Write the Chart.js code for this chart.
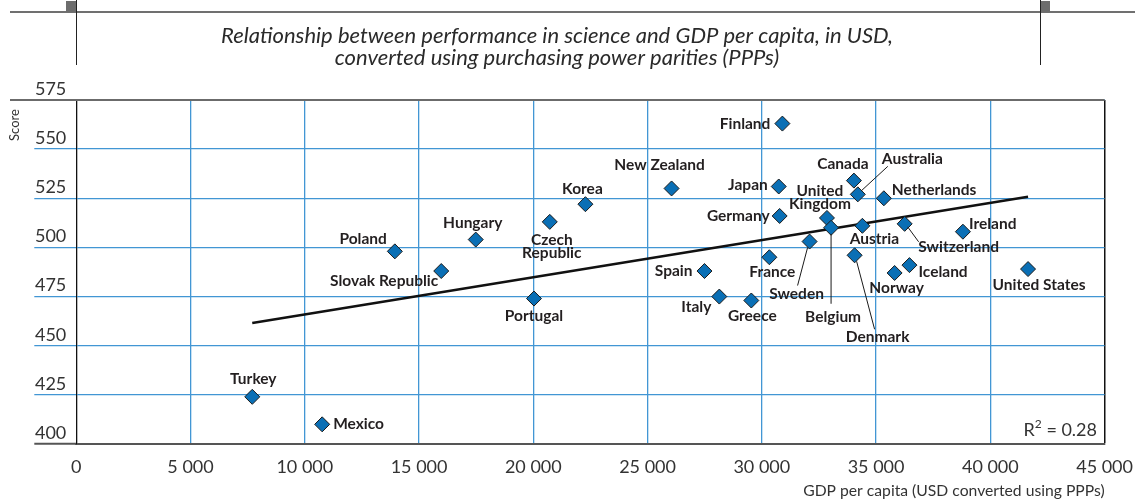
<!DOCTYPE html>
<html>
<head>
<meta charset="utf-8">
<script src="https://cdn.jsdelivr.net/npm/chart.js@4/dist/chart.umd.min.js"></script>
<style>
    html, body { margin: 0; padding: 0; background: #fff; }
    canvas { display: block; }
</style>
</head>
<body>
<canvas id="scatterCanvas" width="1145" height="503"></canvas>
<script>
(function () {
    'use strict';

    var countries = ['Finland', 'New Zealand', 'Japan', 'Canada', 'Australia', 'Netherlands',
        'United Kingdom', 'Germany', 'Belgium', 'Austria', 'Switzerland', 'Ireland', 'Sweden',
        'France', 'Denmark', 'Spain', 'Iceland', 'Norway', 'United States', 'Italy', 'Greece',
        'Poland', 'Hungary', 'Slovak Republic', 'Czech Republic', 'Korea', 'Portugal', 'Turkey', 'Mexico'];
    var gdpPerCapita = [30900, 26050, 30740, 34030, 34200, 35340,
        32850, 30780, 33030, 34400, 36250, 38800, 32090,
        30330, 34060, 27490, 36460, 35810, 41650, 28140, 29540,
        13940, 17480, 15970, 20720, 22280, 20030, 7700, 10760];
    var scienceScore = [563, 530, 531, 534, 527, 525,
        515, 516, 510, 511, 512, 508, 503,
        495, 496, 488, 491, 487, 489, 475, 473,
        498, 504, 488, 513, 522, 474, 424, 410];

    var trendGdp = [7700, 41650];
    var trendScore = [461.5, 525.8];

    var xTickLabels = ['0', '5 000', '10 000', '15 000', '20 000', '25 000', '30 000', '35 000', '40 000', '45 000'];
    var yTickLabels = ['400', '425', '450', '475', '500', '525', '550', '575'];

    var subtitleLines = ['Relationship between performance in science and GDP per capita, in USD,',
        'converted using purchasing power parities (PPPs)'];
    var yTitle = 'Score';
    var xTitle = 'GDP per capita (USD converted using PPPs)';
    var rSquared = '0.28';

    // label placement in pixels relative to each diamond
    var labelLayout = {
        'Finland': { dx: -12, dy: 0, align: 'right' },
        'New Zealand': { dx: -12, dy: -23, align: 'center' },
        'Japan': { dx: -11, dy: -1, align: 'right' },
        'Canada': { dx: -11, dy: -17, align: 'center' },
        'Australia': { dx: 24, dy: -35, align: 'left' },
        'Netherlands': { dx: 8, dy: -8, align: 'left' },
        'United Kingdom': { dx: -7, dy: -27, align: 'center', lines: ['United', 'Kingdom'] },
        'Germany': { dx: -10, dy: 0, align: 'right' },
        'Belgium': { dx: 2, dy: 89, align: 'center' },
        'Austria': { dx: 12, dy: 13, align: 'center' },
        'Switzerland': { dx: 54, dy: 23, align: 'center' },
        'Ireland': { dx: 6, dy: -8, align: 'left' },
        'Sweden': { dx: -13, dy: 52, align: 'center' },
        'France': { dx: 3, dy: 15, align: 'center' },
        'Denmark': { dx: 23, dy: 82, align: 'center' },
        'Spain': { dx: -12, dy: 0, align: 'right' },
        'Iceland': { dx: 9, dy: 7, align: 'left' },
        'Norway': { dx: 2, dy: 15, align: 'center' },
        'United States': { dx: 11, dy: 16, align: 'center' },
        'Italy': { dx: -23, dy: 10, align: 'center' },
        'Greece': { dx: 1, dy: 15, align: 'center' },
        'Poland': { dx: -8, dy: -12, align: 'right' },
        'Hungary': { dx: -3, dy: -17, align: 'center' },
        'Slovak Republic': { dx: -3, dy: 10, align: 'right' },
        'Czech Republic': { dx: 2, dy: 18, align: 'center', lines: ['Czech', 'Republic'] },
        'Korea': { dx: -3, dy: -15, align: 'center' },
        'Portugal': { dx: 0, dy: 17, align: 'center' },
        'Turkey': { dx: 1, dy: -18, align: 'center' },
        'Mexico': { dx: 11, dy: 0, align: 'left' }
    };
    var leaderLines = {
        'Australia': [4, -4, 30, -28],
        'Switzerland': [3, 3, 14, 18],
        'Sweden': [-2, 6, -12, 44],
        'Belgium': [0, 6, 0, 76],
        'Denmark': [2, 6, 20, 74]
    };

    var gridBlue = 'rgb(66, 150, 212)';
    var labelColor = '#231f20';
    var tickFont = { family: 'Lato', size: 18, weight: 'normal' };

    var annotationPlugin = {
        id: 'annotations',
        afterDraw: function (chart) {
            var ctx = chart.ctx;
            var area = chart.chartArea;
            var xs = chart.scales.x;
            var ys = chart.scales.y;
            ctx.save();

            // header rule and frame
            ctx.strokeStyle = '#707070';
            ctx.lineWidth = 2;
            ctx.beginPath();
            ctx.moveTo(10, 12);
            ctx.lineTo(1135, 12);
            ctx.stroke();
            ctx.fillStyle = '#6d6d6d';
            ctx.fillRect(66, 1, 10, 11);
            ctx.fillRect(1040, 1, 10, 11);
            ctx.strokeStyle = '#222';
            ctx.lineWidth = 1;
            ctx.beginPath();
            ctx.moveTo(76.5, 0);
            ctx.lineTo(76.5, 65);
            ctx.moveTo(1040.5, 0);
            ctx.lineTo(1040.5, 65);
            ctx.stroke();

            // top border of the plot
            ctx.strokeStyle = '#6b6b6b';
            ctx.lineWidth = 2;
            ctx.beginPath();
            ctx.moveTo(10, area.top);
            ctx.lineTo(area.right, area.top);
            ctx.stroke();

            // subtitle
            ctx.fillStyle = '#2a2a2a';
            ctx.font = 'italic 22px Lato';
            ctx.textAlign = 'center';
            ctx.textBaseline = 'middle';
            ctx.fillText(subtitleLines[0], 557, 36);
            ctx.fillText(subtitleLines[1], 557, 58);

            // axis titles
            ctx.fillStyle = '#333';
            ctx.font = '13px Lato';
            ctx.save();
            ctx.translate(15, 125);
            ctx.rotate(-Math.PI / 2);
            ctx.fillText(yTitle, 0, 0);
            ctx.restore();
            ctx.font = '15.7px Lato';
            ctx.textAlign = 'right';
            ctx.fillText(xTitle, area.right, 491);

            // R squared
            ctx.font = '18px Lato';
            ctx.textBaseline = 'alphabetic';
            var rest = ' = ' + rSquared;
            var restW = ctx.measureText(rest).width;
            ctx.fillText(rest, 1097, 436);
            ctx.font = '12px Lato';
            var supW = ctx.measureText('2').width;
            ctx.fillText('2', 1097 - restW, 428);
            ctx.font = '18px Lato';
            ctx.fillText('R', 1097 - restW - supW, 436);

            // leaders and country labels
            ctx.strokeStyle = '#1a1a1a';
            ctx.lineWidth = 1;
            ctx.fillStyle = labelColor;
            ctx.font = 'bold 15.5px Lato';
            ctx.textBaseline = 'middle';
            countries.forEach(function (name, i) {
                var px = xs.getPixelForValue(gdpPerCapita[i]);
                var py = ys.getPixelForValue(scienceScore[i]);
                var leader = leaderLines[name];
                if (leader) {
                    ctx.beginPath();
                    ctx.moveTo(px + leader[0], py + leader[1]);
                    ctx.lineTo(px + leader[2], py + leader[3]);
                    ctx.stroke();
                }
                var lay = labelLayout[name];
                if (!lay) {
                    return;
                }
                var lines = lay.lines || [name];
                ctx.textAlign = lay.align;
                lines.forEach(function (line, k) {
                    ctx.fillText(line, px + lay.dx, py + lay.dy + k * 13.5);
                });
            });
            ctx.restore();
        }
    };

    var points = gdpPerCapita.map(function (g, i) {
        return { x: g, y: scienceScore[i] };
    });
    var trendPoints = trendGdp.map(function (g, i) {
        return { x: g, y: trendScore[i] };
    });

    new Chart(document.getElementById('scatterCanvas'), {
        type: 'scatter',
        data: {
            datasets: [{
                label: 'Countries',
                data: points,
                pointStyle: 'rectRot',
                pointRadius: 7.5,
                backgroundColor: '#0a6fb5',
                borderColor: '#1b1b1b',
                borderWidth: 1,
                order: 0
            }, {
                type: 'line',
                label: 'Trend',
                data: trendPoints,
                borderColor: '#111',
                borderWidth: 2.5,
                pointRadius: 0,
                fill: false,
                order: 1
            }]
        },
        options: {
            responsive: false,
            animation: false,
            devicePixelRatio: 1,
            layout: { padding: { left: 4, top: 100, right: 39.4, bottom: 0 } },
            plugins: {
                legend: { display: false },
                tooltip: { enabled: false }
            },
            scales: {
                x: {
                    type: 'linear',
                    min: 0,
                    max: 45000,
                    afterFit: function (scale) { scale.height = 59; },
                    ticks: {
                        stepSize: 5000,
                        autoSkip: false,
                        maxRotation: 0,
                        padding: 12,
                        font: tickFont,
                        color: '#333',
                        callback: function (value, index) { return xTickLabels[index]; }
                    },
                    grid: {
                        drawTicks: false,
                        lineWidth: function (c) { return c.tick && c.tick.value === 45000 ? 1.5 : 1.3; },
                        color: function (c) {
                            if (c.tick && (c.tick.value === 0 || c.tick.value === 45000)) {
                                return '#111';
                            }
                            return gridBlue;
                        }
                    },
                    border: { color: '#555', width: 2 }
                },
                y: {
                    type: 'linear',
                    min: 400,
                    max: 575,
                    afterFit: function (scale) { scale.width = 72.3; },
                    ticks: {
                        stepSize: 25,
                        autoSkip: false,
                        crossAlign: 'near',
                        padding: -32,
                        labelOffset: -11,
                        font: tickFont,
                        color: '#333',
                        callback: function (value, index) { return yTickLabels[index]; }
                    },
                    grid: {
                        tickLength: 42,
                        lineWidth: 1.3,
                        color: gridBlue,
                        tickColor: function (c) { return c.tick && c.tick.value === 400 ? '#555' : gridBlue; },
                        tickWidth: function (c) { return c.tick && c.tick.value === 400 ? 2 : 1.3; }
                    },
                    border: { color: '#111', width: 1 }
                }
            }
        },
        plugins: [annotationPlugin]
    });
})();
</script>
</body>
</html>
